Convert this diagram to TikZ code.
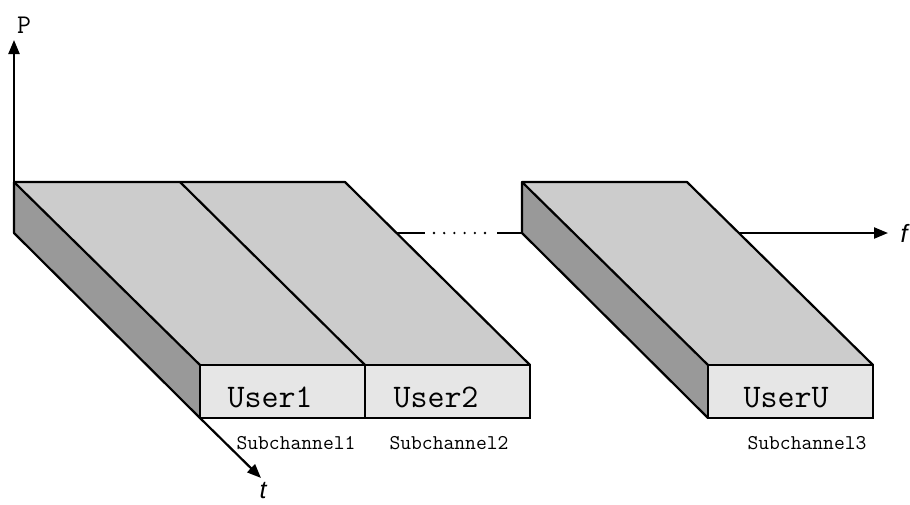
\documentclass[tikz,border=0pt]{standalone}
\usepackage{fontspec}
\setsansfont{Liberation Sans}
\usetikzlibrary{arrows.meta}
\definecolor{topgray}{HTML}{CCCCCC}
\definecolor{sidegray}{HTML}{999999}
\definecolor{frontgray}{HTML}{E6E6E6}
\tikzset{
  edge/.style={line width=2.2pt, line join=round},
  axis/.style={line width=2.2pt, -{Triangle[length=14pt,width=11pt]}},
  frontface/.style={draw, line width=2.2pt, fill=frontgray, minimum width=165pt,
    minimum height=53pt, inner sep=0pt},
  userlabel/.style={font=\ttfamily\fontsize{33}{33}\selectfont, inner sep=0pt, anchor=base},
  sublabel/.style={font=\ttfamily\fontsize{21}{21}\selectfont, inner sep=0pt},
  axislabel/.style={font=\sffamily\itshape\fontsize{25}{25}\selectfont, inner sep=0pt},
}
\begin{document}
\begin{tikzpicture}[x=1pt, y=-1pt]
\useasboundingbox (0,0) rectangle (910,504);

% corner points of the slabs
\coordinate (o) at (14,182);
\coordinate (ptip) at (14,40);
\coordinate (tstart) at (200,418);
\coordinate (ttip) at (261,478);
\coordinate (fstart) at (738,233);
\coordinate (ftip) at (888,233);

% slab for users 1 and 2: top face and side face
\fill[topgray] (14,182) -- (345,182) -- (530,365) -- (200,365) -- cycle;
\fill[sidegray] (14,182) -- (14,233) -- (200,418) -- (200,365) -- cycle;
\draw[edge] (14,182) -- (345,182) -- (530,365);
\draw[edge] (180,182) -- (365,365);
\draw[edge] (14,182) -- (200,365);
\draw[edge] (14,182) -- (14,233) -- (200,418);

% slab for user U
\fill[topgray] (522,182) -- (687,182) -- (873,365) -- (708,365) -- cycle;
\fill[sidegray] (522,182) -- (522,233) -- (708,418) -- (708,365) -- cycle;
\draw[edge] (708,365) -- (522,182) -- (687,182) -- (873,365);
\draw[edge] (522,182) -- (522,233) -- (708,418);

% front faces
\node[frontface] (f1) at (282.5,391.5) {};
\node[frontface] (f2) at (447.5,391.5) {};
\node[frontface] (fu) at (790.5,391.5) {};
\node[userlabel] (u1) at (270,407) {User1};
\node[userlabel] (u2) at (436,407) {User2};
\node[userlabel] (uu) at (786,407) {UserU};

% frequency axis with the gap between the slabs
\coordinate (g1) at (396,233);
\coordinate (g2) at (425,233);
\coordinate (g3) at (497,233);
\coordinate (g4) at (522,233);
\draw[edge] (g1) -- (g2);
\draw[line width=2.6pt, line cap=round, dash pattern=on 0pt off 10.2pt] (434,233) -- (495,233);
\draw[edge] (g3) -- (g4);
\draw[axis] (fstart) -- (ftip);

% power and time axes
\draw[axis] (o) -- (ptip);
\draw[axis] (tstart) -- (ttip);

% axis labels
\node[font=\ttfamily\fontsize{27}{27}\selectfont, inner sep=0pt] (plabel) at (24,25) {P};
\node[axislabel] (flabel) at (904,233) {f};
\node[axislabel] (tlabel) at (263,491) {t};

% subchannel labels
\node[sublabel] (s1) at (296,443) {Subchannel1};
\node[sublabel] (s2) at (449,443) {Subchannel2};
\node[sublabel] (s3) at (807,443) {Subchannel3};
\end{tikzpicture}
\end{document}
